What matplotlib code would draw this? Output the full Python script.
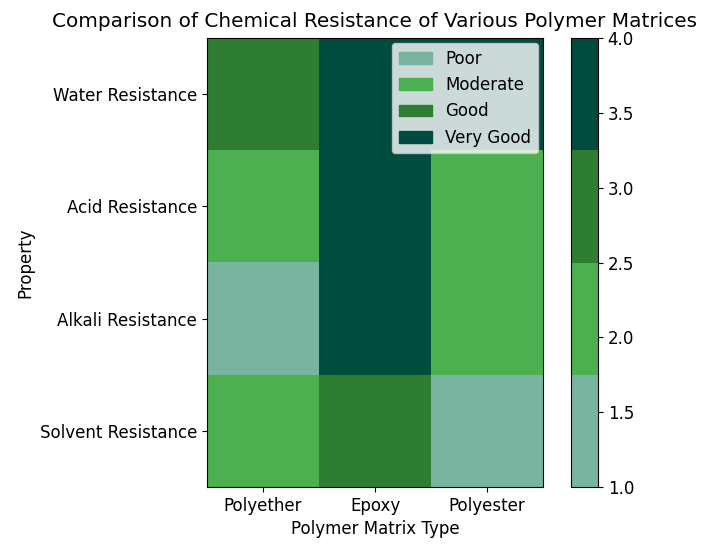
import numpy as np
import matplotlib.pyplot as plt
from matplotlib.colors import ListedColormap
from matplotlib.patches import Patch

# Data
properties = ['Water Resistance', 'Acid Resistance', 'Alkali Resistance', 'Solvent Resistance']
matrices = ['Polyether', 'Epoxy', 'Polyester']
levels = ['Poor', 'Moderate', 'Good', 'Very Good']
scores = np.array([
    [3, 4, 4],
    [2, 4, 2],
    [1, 4, 2],
    [2, 3, 1],
])
colors = ['#78b4a0', '#4caf50', '#2e7d32', '#004d40']

cmap = ListedColormap(colors)
plt.rcParams['font.size'] = 12

W, H = 709, 550
fig = plt.figure(figsize=(W / 100, H / 100), dpi=100)
ax = fig.add_axes([207 / W, (H - 487) / H, 336 / W, 449 / H])
cax = fig.add_axes([571 / W, (H - 487) / H, 27 / W, 449 / H])

im = ax.imshow(scores, cmap=cmap, vmin=1, vmax=4, aspect='auto')

ax.set_xticks(np.arange(len(matrices)))
ax.set_xticklabels(matrices)
ax.set_yticks(np.arange(len(properties)))
ax.set_yticklabels(properties)
ax.set_xlabel('Polymer Matrix Type')
ax.set_ylabel('Property')
ax.set_title('Comparison of Chemical Resistance of Various Polymer Matrices', fontsize=14.4, pad=8)

fig.colorbar(im, cax=cax)

handles = [Patch(color=c, label=l) for c, l in zip(colors, levels)]
ax.legend(handles=handles, loc='upper right', borderaxespad=0.3)

plt.savefig('out.png')
